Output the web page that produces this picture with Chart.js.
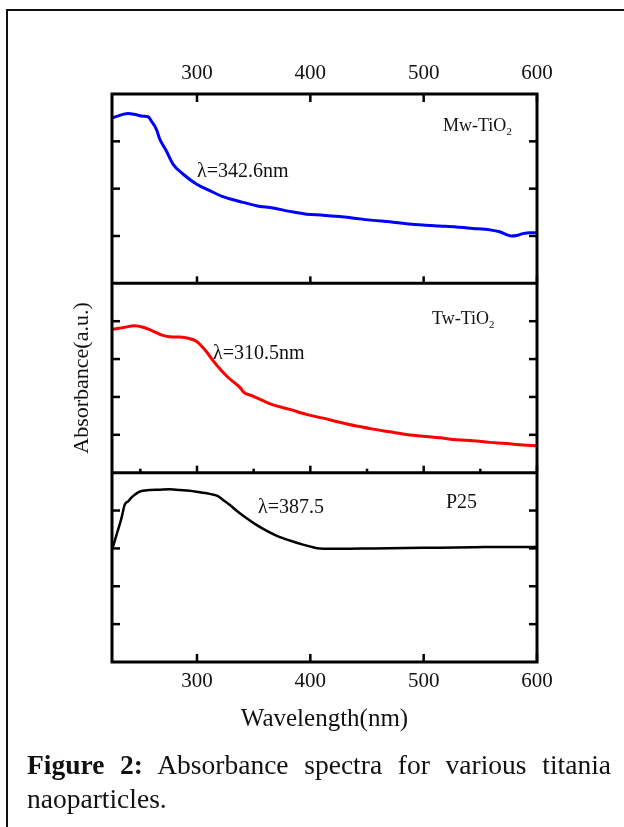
<!DOCTYPE html>
<html><head><meta charset="utf-8">
<script src="https://cdn.jsdelivr.net/npm/chart.js@4.4.1/dist/chart.umd.min.js"></script>
<style>
html,body{margin:0;padding:0;background:#fff;}
body{width:624px;height:827px;position:relative;overflow:hidden;font-family:"Liberation Serif","Times New Roman",serif;color:#111;}
#frame{position:absolute;left:6px;top:9px;width:700px;height:900px;border-left:2px solid #111;border-top:2px solid #111;}
#wrap{position:absolute;left:0;top:0;width:624px;height:760px;}
.ann{position:absolute;white-space:nowrap;line-height:1;color:#111;}
.ann sub{font-size:0.6em;vertical-align:-0.35em;line-height:0;}
#caption{position:absolute;left:27px;top:748px;width:584px;font-size:27.5px;line-height:34px;text-align:justify;margin:0;color:#111;}
</style></head>
<body>
<div id="frame"></div>
<div id="wrap"><canvas id="c"></canvas></div>
<div class="ann" style="left:443px;top:116px;font-size:18px">Mw-TiO<sub>2</sub></div>
<div class="ann" style="left:197px;top:160px;font-size:20px">λ=342.6nm</div>
<div class="ann" style="left:432px;top:309px;font-size:18px">Tw-TiO<sub>2</sub></div>
<div class="ann" style="left:213px;top:342px;font-size:20px">λ=310.5nm</div>
<div class="ann" style="left:446px;top:491px;font-size:20px">P25</div>
<div class="ann" style="left:258px;top:496px;font-size:20px">λ=387.5</div>
<p id="caption"><b>Figure 2:</b> Absorbance spectra for various titania naoparticles.</p>
<script>
// ---- data ----
const WAVE_MW = [224.4,234.7,239.1,246.5,252.4,256.8,259.7,264.1,267.1,272.9,278.8,287.6,299.4,311.2,322.9,337.6,352.4,367.1,381.8,396.5,411.2,425.9,440.6,455.3,470,484.7,499.4,514.1,528.8,543.5,558.2,567.1,574.4,577.4,581.8,587.6,593.5,600];
const ABS_MW  = [3.49,3.57,3.59,3.56,3.53,3.52,3.43,3.26,3.05,2.80,2.52,2.31,2.10,1.96,1.83,1.73,1.64,1.59,1.52,1.46,1.44,1.41,1.37,1.33,1.30,1.26,1.23,1.21,1.19,1.16,1.13,1.09,1.02,1.00,1.01,1.05,1.07,1.07];

const WAVE_TW = [224.4,234.7,245,252.4,261.2,268.5,275.9,284.7,292.1,299.4,306.8,314.1,321.5,328.8,336.2,339.1,340.6,349.4,358.2,367.1,381.8,396.5,411.2,425.9,440.6,455.3,470,484.7,499.4,514.1,528.8,543.5,558.2,572.9,587.6,600];
const ABS_TW  = [3.78,3.83,3.88,3.84,3.74,3.64,3.59,3.58,3.55,3.47,3.25,2.96,2.70,2.48,2.30,2.21,2.14,2.02,1.90,1.79,1.67,1.54,1.44,1.33,1.23,1.15,1.08,1.01,0.96,0.92,0.87,0.84,0.80,0.77,0.73,0.71];

const WAVE_P25 = [225.3,228.8,233.2,236.2,239.1,243.5,249.4,258.2,267.1,275.9,284.7,293.5,302.4,311.2,318.5,322.9,328.8,334.7,343.5,352.4,361.2,370,381.8,393.5,402.4,408.2,425.9,455.3,484.7,514.1,543.5,572.9,600];
const ABS_P25  = [2.99,3.34,3.78,4.15,4.24,4.38,4.50,4.54,4.55,4.56,4.54,4.52,4.48,4.44,4.38,4.28,4.15,4.00,3.80,3.62,3.47,3.34,3.21,3.10,3.03,3.00,2.99,3.00,3.01,3.02,3.03,3.04,3.04];

const X_MIN = 225, X_MAX = 600;
const X_TICKS = [300, 400, 500, 600];
const X_MINOR = [250, 350, 450, 550];
const Y_RANGE_MW = [0, 4], Y_RANGE_TW = [0, 5], Y_RANGE_P25 = [0, 5];
const Y_TICKS_MW = [1, 2, 3];
const Y_TICKS_TW = [1, 2, 3, 4];
const Y_TICKS_P25 = [1, 2, 3, 4];

const toPts = (xs, ys) => xs.map((x, i) => ({x, y: ys[i]}));

const frameTicks = {
  id: 'frameTicks',
  afterDatasetsDraw(chart) {
    const {ctx, chartArea: a, scales: s} = chart;
    const line = (x1, y1, x2, y2) => { ctx.beginPath(); ctx.moveTo(x1, y1); ctx.lineTo(x2, y2); ctx.stroke(); };
    ctx.save();
    ctx.strokeStyle = '#000';
    ctx.lineCap = 'butt';
    ctx.lineWidth = 2.5;
    const xt = (vals, y, len) => vals.forEach(v => { const x = s.x.getPixelForValue(v); line(x, y, x, y + len); });
    xt(X_TICKS, a.top, 8);
    xt(X_TICKS, s.yMw.bottom, -7);
    xt(X_TICKS, s.yTw.bottom, -7);
    xt(X_MINOR, s.yTw.bottom, -4);
    xt(X_TICKS, a.bottom, -8);
    const yt = (scale, vals) => vals.forEach(v => {
      const y = scale.getPixelForValue(v);
      line(a.left, y, a.left + 8, y);
      line(a.right, y, a.right - 8, y);
    });
    yt(s.yMw, Y_TICKS_MW);
    yt(s.yTw, Y_TICKS_TW);
    yt(s.yP25, Y_TICKS_P25);
    ctx.lineWidth = 3;
    ctx.strokeRect(a.left, a.top, a.width, a.height);
    line(a.left, s.yMw.bottom, a.right, s.yMw.bottom);
    line(a.left, s.yTw.bottom, a.right, s.yTw.bottom);
    ctx.restore();
  }
};

const serif = '"Liberation Serif", "Times New Roman", serif';
const hiddenY = (range, weight, extra) => Object.assign({
  type: 'linear', position: 'left', stack: 'panels', stackWeight: 1, weight: weight,
  min: range[0], max: range[1],
  ticks: {display: false},
  grid: {display: false, drawTicks: false, tickLength: 0},
  border: {display: false},
  afterFit: sc => { sc.width = 112; }
}, extra || {});

const xTickSetter = sc => { sc.ticks = X_TICKS.map(v => ({value: v})); };

new Chart(document.getElementById('c'), {
  type: 'line',
  data: {
    datasets: [
      {label: 'Mw-TiO2', data: toPts(WAVE_MW, ABS_MW), xAxisID: 'x', yAxisID: 'yMw', borderColor: '#0000ff', borderWidth: 3, pointRadius: 0, cubicInterpolationMode: 'monotone', fill: false},
      {label: 'Tw-TiO2', data: toPts(WAVE_TW, ABS_TW), xAxisID: 'x', yAxisID: 'yTw', borderColor: '#ff0000', borderWidth: 3, pointRadius: 0, cubicInterpolationMode: 'monotone', fill: false},
      {label: 'P25', data: toPts(WAVE_P25, ABS_P25), xAxisID: 'x', yAxisID: 'yP25', borderColor: '#000000', borderWidth: 2.5, pointRadius: 0, cubicInterpolationMode: 'monotone', fill: false}
    ]
  },
  options: {
    responsive: true, maintainAspectRatio: false, animation: false,
    layout: {padding: {left: 0, right: 87, top: 0, bottom: 0}},
    plugins: {legend: {display: false}, tooltip: {enabled: false}},
    scales: {
      x: {
        type: 'linear', position: 'bottom', min: X_MIN, max: X_MAX,
        afterBuildTicks: xTickSetter,
        ticks: {color: '#111', font: {family: serif, size: 21, lineHeight: 1.2}, padding: 7, maxRotation: 0, autoSkip: false},
        grid: {display: false, drawTicks: false, tickLength: 0},
        border: {display: false},
        title: {display: true, text: 'Wavelength(nm)', color: '#111', font: {family: serif, size: 25, lineHeight: 1.2}, padding: {top: 0, bottom: 26}},
        afterFit: sc => { sc.height = 98; }
      },
      x2: {
        type: 'linear', position: 'top', min: X_MIN, max: X_MAX,
        afterBuildTicks: xTickSetter,
        ticks: {color: '#111', font: {family: serif, size: 21, lineHeight: 1.2}, padding: 8, maxRotation: 0, autoSkip: false},
        grid: {display: false, drawTicks: false, tickLength: 0},
        border: {display: false},
        afterFit: sc => { sc.height = 94; }
      },
      yP25: hiddenY(Y_RANGE_P25, 1),
      yTw: hiddenY(Y_RANGE_TW, 2, {title: {display: true, text: 'Absorbance(a.u.)', color: '#111', font: {family: serif, size: 22, lineHeight: 1.2}, padding: {top: 69, bottom: 0}}}),
      yMw: hiddenY(Y_RANGE_MW, 3)
    }
  },
  plugins: [frameTicks]
});
</script>
</body></html>
